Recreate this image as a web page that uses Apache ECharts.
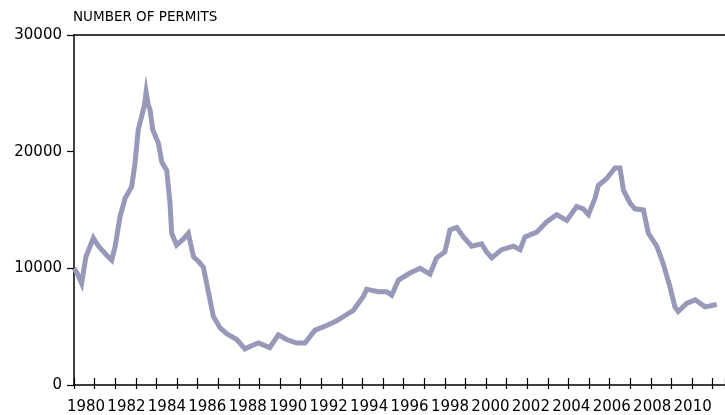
<!DOCTYPE html>
<html>
<head>
<meta charset="utf-8">
<script src="https://cdn.jsdelivr.net/npm/echarts@6/dist/echarts.min.js"></script>
<style>
  html, body { margin: 0; padding: 0; background: #fff; }
  #chart { width: 725px; height: 415px; }
</style>
</head>
<body>
<div id="chart"></div>
<script>
// monthly-ish permits
var years = [
    1980.0, 1980.15, 1980.37, 1980.45, 1980.58, 1980.94, 1981.15, 1981.34, 1981.6, 1981.83,
    1982.0, 1982.23, 1982.48, 1982.8, 1982.96, 1983.12, 1983.28, 1983.42, 1983.5, 1983.6,
    1983.69, 1983.82, 1984.1, 1984.26, 1984.5, 1984.66, 1984.74, 1984.98, 1985.3, 1985.55,
    1985.8, 1986.03, 1986.28, 1986.44, 1986.6, 1986.76, 1987.09, 1987.41, 1987.9, 1988.3,
    1988.54, 1988.95, 1989.5, 1989.92, 1990.32, 1990.81, 1991.21, 1991.7, 1992.27, 1992.75,
    1993.2, 1993.56, 1994.05, 1994.21, 1994.78, 1995.18, 1995.42, 1995.75, 1996.31, 1996.8,
    1997.28, 1997.6, 1998.0, 1998.25, 1998.58, 1998.9, 1999.3, 1999.79, 2000.03, 2000.28,
    2000.76, 2001.33, 2001.65, 2001.89, 2002.46, 2002.95, 2003.43, 2003.92, 2004.4, 2004.72,
    2004.97, 2005.29, 2005.45, 2005.86, 2006.26, 2006.5, 2006.67, 2006.99, 2007.23, 2007.64,
    2007.88, 2008.29, 2008.6, 2008.93, 2009.17, 2009.33, 2009.74, 2010.15, 2010.63, 2011.2
];
var permits = [
    10000, 9600, 8700, 8800, 11000, 12600, 12000, 11600, 11100, 10700,
    11900, 14400, 16000, 17000, 19000, 21900, 23000, 24000, 25100, 24000,
    23600, 21900, 20700, 19100, 18400, 15600, 13000, 12000, 12500, 13000,
    11000, 10600, 10100, 8700, 7300, 5900, 4900, 4400, 3900, 3100,
    3300, 3600, 3200, 4300, 3900, 3600, 3600, 4700, 5100, 5500,
    6000, 6400, 7600, 8200, 8000, 8000, 7700, 9000, 9600, 10000,
    9500, 10900, 11400, 13300, 13500, 12700, 11900, 12100, 11400, 10900,
    11600, 11900, 11600, 12700, 13100, 14000, 14600, 14100, 15300, 15100,
    14600, 16000, 17100, 17700, 18600, 18600, 16700, 15600, 15100, 15000,
    13000, 11900, 10400, 8400, 6700, 6300, 7000, 7300, 6700, 6900
];
var yTicks = [0, 10000, 20000, 30000];

var seriesData = [];
for (var i = 0; i < years.length; i++) {
    seriesData.push([years[i], permits[i]]);
}

var xMin = 1980, xMax = 2011.6;
var fontName = 'DejaVu Sans';

var myChart = echarts.init(document.getElementById('chart'));

myChart.setOption({
    animation: false,
    title: {
        text: 'NUMBER OF PERMITS',
        left: 73,
        top: 10,
        padding: 0,
        textStyle: {
            fontFamily: fontName,
            fontSize: 13.5,
            fontWeight: 'normal',
            color: '#000'
        }
    },
    grid: [
        { left: 74, top: 35, width: 651, height: 350 },
        // same scale, nudged right: the year labels sit right of their ticks
        { left: 86, top: 35, width: 651, height: 350 }
    ],
    xAxis: [
        {   // main axis, ticks pointing inside
            type: 'value',
            gridIndex: 0,
            position: 'bottom',
            min: xMin,
            max: xMax,
            interval: 1,
            axisLine: { lineStyle: { color: '#000', width: 1.5 } },
            axisTick: { inside: true, length: 7, lineStyle: { color: '#000', width: 1.2 } },
            axisLabel: { show: false },
            splitLine: { show: false }
        },
        {   // same ticks, short stub below the line
            type: 'value',
            gridIndex: 0,
            position: 'bottom',
            min: xMin,
            max: xMax,
            interval: 1,
            axisLine: { show: false },
            axisTick: { length: 4, lineStyle: { color: '#000', width: 1.2 } },
            axisLabel: { show: false },
            splitLine: { show: false }
        },
        {   // top frame line
            type: 'value',
            gridIndex: 0,
            position: 'top',
            min: xMin,
            max: xMax,
            axisLine: { lineStyle: { color: '#000', width: 1.5 } },
            axisTick: { show: false },
            axisLabel: { show: false },
            splitLine: { show: false }
        },
        {   // labels only
            type: 'value',
            gridIndex: 1,
            position: 'bottom',
            min: xMin,
            max: xMax,
            interval: 2,
            axisLine: { show: false },
            axisTick: { show: false },
            axisLabel: {
                margin: 16,
                fontFamily: fontName,
                fontSize: 15,
                color: '#000',
                formatter: function (v) { return String(v); }
            },
            splitLine: { show: false }
        }
    ],
    yAxis: [
        {
            type: 'value',
            gridIndex: 0,
            min: yTicks[0],
            max: yTicks[yTicks.length - 1],
            interval: 10000,
            axisLine: { show: true, lineStyle: { color: '#000', width: 1.5 } },
            axisTick: { show: true, length: 7, lineStyle: { color: '#000', width: 1.2 } },
            axisLabel: {
                margin: 12,
                fontFamily: fontName,
                fontSize: 15,
                color: '#000',
                formatter: function (v) { return String(v); }
            },
            splitLine: { show: false }
        },
        {
            type: 'value',
            gridIndex: 1,
            min: 0,
            max: 30000,
            show: false
        }
    ],
    series: [{
        type: 'line',
        xAxisIndex: 0,
        yAxisIndex: 0,
        showSymbol: false,
        data: seriesData,
        lineStyle: { color: '#9898b8', width: 5, join: 'miter' },
        itemStyle: { color: '#9898b8' }
    }]
});
</script>
</body>
</html>
